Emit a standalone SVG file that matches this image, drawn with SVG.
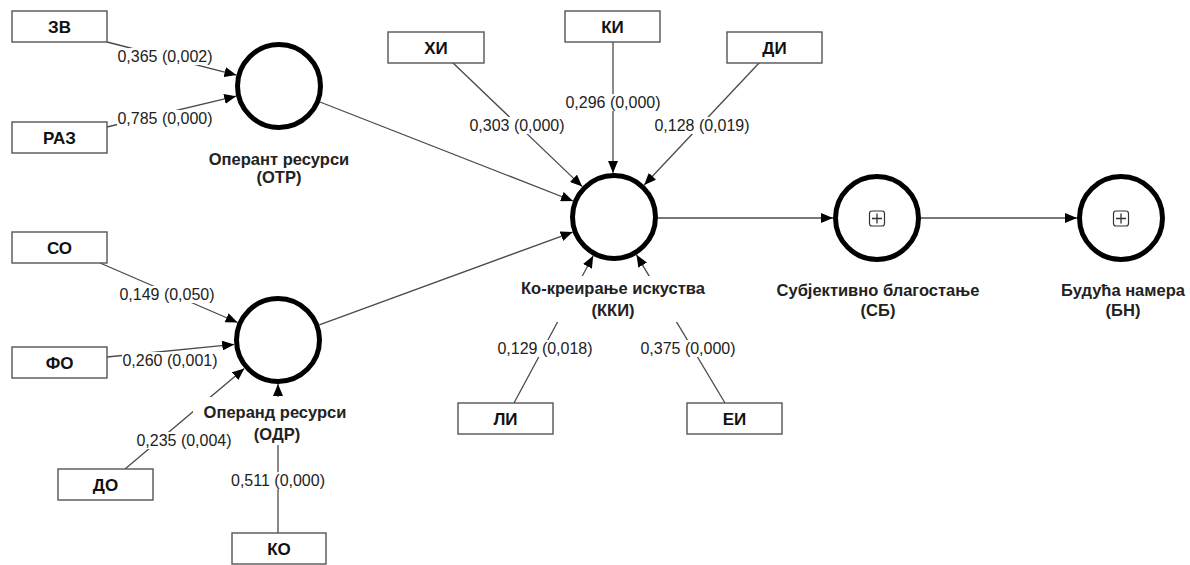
<svg xmlns="http://www.w3.org/2000/svg" width="1190" height="565" viewBox="0 0 1190 565">
  <style>
    .box { fill: #ffffff; stroke: #555555; stroke-width: 1.4; }
    .boxtxt { font-family: "Liberation Sans", Arial, sans-serif; font-size: 17px; font-weight: bold; fill: #111111; text-anchor: middle; }
    .lv { fill: #ffffff; stroke: #000000; stroke-width: 5; }
    .lvtxt { font-family: "Liberation Sans", Arial, sans-serif; font-size: 16.5px; font-weight: bold; fill: #222222; text-anchor: middle; }
    .edge { stroke: #4a4a4a; stroke-width: 1.3; fill: none; marker-end: url(#arrow); }
    .coef { font-family: "Liberation Sans", Arial, sans-serif; font-size: 16px; fill: #222222; text-anchor: middle; }
    .bg { fill: #ffffff; }
    .icon { fill: #ffffff; stroke: #333333; stroke-width: 1.2; }
  </style>
  <defs>
    <marker id="arrow" markerUnits="userSpaceOnUse" markerWidth="12" markerHeight="10" refX="12" refY="5" orient="auto">
      <path d="M0,0 L12,5 L0,10 Z" fill="#000000"/>
    </marker>
  </defs>
  <rect width="1190" height="565" fill="#ffffff"/>

  <!-- connectors -->
  <g id="connectors">
    <line class="edge" x1="107" y1="42" x2="236.4" y2="75.1"/>
    <line class="edge" x1="107" y1="127" x2="236.2" y2="96.2"/>
    <line class="edge" x1="320" y1="102" x2="573" y2="201"/>
    <line class="edge" x1="319.3" y1="324.9" x2="572.7" y2="232.1"/>
    <line class="edge" x1="100" y1="263" x2="237.6" y2="322.5"/>
    <line class="edge" x1="107" y1="357" x2="234.2" y2="344.4"/>
    <line class="edge" x1="125" y1="469" x2="244.3" y2="368.4"/>
    <line class="edge" x1="278" y1="533" x2="278" y2="384"/>
    <line class="edge" x1="452" y1="62" x2="582.2" y2="186.6"/>
    <line class="edge" x1="613" y1="42" x2="613" y2="173"/>
    <line class="edge" x1="760" y1="62" x2="644.2" y2="185"/>
    <line class="edge" x1="514" y1="403" x2="593.2" y2="255.8"/>
    <line class="edge" x1="725" y1="403" x2="636.5" y2="254.8"/>
    <line class="edge" x1="658" y1="218" x2="833" y2="218"/>
    <line class="edge" x1="921" y1="218" x2="1077" y2="218"/>
  </g>

  <!-- construct name backgrounds (hide the connectors behind the names) -->
  <g id="name-backgrounds">
    <rect class="bg" x="203" y="150" width="152" height="38"/>
    <rect class="bg" x="193" y="397" width="154" height="25"/>
    <rect class="bg" x="250" y="422" width="54" height="23"/>
    <rect class="bg" x="516" y="276" width="194" height="46"/>
  </g>

  <!-- path coefficients with p-values -->
  <g id="coefficients">
    <rect class="bg" x="117" y="48" width="96" height="17"/>
    <text class="coef" x="165" y="62">0,365 (0,002)</text>
    <rect class="bg" x="117" y="110" width="96" height="17"/>
    <text class="coef" x="165" y="124">0,785 (0,000)</text>
    <rect class="bg" x="119" y="286" width="96" height="17"/>
    <text class="coef" x="167" y="300">0,149 (0,050)</text>
    <rect class="bg" x="122" y="352" width="96" height="17"/>
    <text class="coef" x="170" y="366">0,260 (0,001)</text>
    <rect class="bg" x="136" y="432" width="96" height="17"/>
    <text class="coef" x="184" y="446">0,235 (0,004)</text>
    <rect class="bg" x="230" y="472" width="96" height="17"/>
    <text class="coef" x="278" y="486">0,511 (0,000)</text>
    <rect class="bg" x="469" y="117" width="96" height="17"/>
    <text class="coef" x="517" y="131">0,303 (0,000)</text>
    <rect class="bg" x="565" y="94" width="96" height="17"/>
    <text class="coef" x="613" y="108">0,296 (0,000)</text>
    <rect class="bg" x="654" y="117" width="96" height="17"/>
    <text class="coef" x="702" y="131">0,128 (0,019)</text>
    <rect class="bg" x="497" y="340" width="96" height="17"/>
    <text class="coef" x="545" y="354">0,129 (0,018)</text>
    <rect class="bg" x="640" y="340" width="96" height="17"/>
    <text class="coef" x="688" y="354">0,375 (0,000)</text>
  </g>

  <!-- indicator boxes -->
  <g id="ZV"><rect class="box" x="12" y="11" width="95" height="31"/><text class="boxtxt" x="59.5" y="33">ЗВ</text></g>
  <g id="RAZ"><rect class="box" x="12" y="122" width="95" height="31"/><text class="boxtxt" x="59.5" y="144">РАЗ</text></g>
  <g id="SO"><rect class="box" x="12" y="232" width="95" height="31"/><text class="boxtxt" x="59.5" y="254">СО</text></g>
  <g id="FO"><rect class="box" x="12" y="347" width="95" height="31"/><text class="boxtxt" x="59.5" y="369">ФО</text></g>
  <g id="DO"><rect class="box" x="58" y="469" width="95" height="31"/><text class="boxtxt" x="105.5" y="491">ДО</text></g>
  <g id="KO"><rect class="box" x="232" y="533" width="94" height="31"/><text class="boxtxt" x="279" y="555">КО</text></g>
  <g id="HI"><rect class="box" x="388" y="32" width="96" height="31"/><text class="boxtxt" x="436" y="54">ХИ</text></g>
  <g id="KI"><rect class="box" x="565" y="11" width="95" height="31"/><text class="boxtxt" x="612.5" y="33">КИ</text></g>
  <g id="DI"><rect class="box" x="727" y="32" width="95" height="31"/><text class="boxtxt" x="774.5" y="54">ДИ</text></g>
  <g id="LI"><rect class="box" x="458" y="403" width="95" height="31"/><text class="boxtxt" x="505.5" y="425">ЛИ</text></g>
  <g id="EI"><rect class="box" x="687" y="403" width="95" height="31"/><text class="boxtxt" x="734.5" y="425">ЕИ</text></g>

  <!-- latent constructs -->
  <g id="OTR">
    <circle class="lv" cx="279" cy="86" r="41.5"/>
    <text class="lvtxt" x="279" y="165">Оперант ресурси</text>
    <text class="lvtxt" x="279" y="183">(ОТР)</text>
  </g>
  <g id="ODR">
    <circle class="lv" cx="278" cy="340" r="41.5"/>
    <text class="lvtxt" x="275" y="418">Операнд ресурси</text>
    <text class="lvtxt" x="277" y="440">(ОДР)</text>
  </g>
  <g id="KKI">
    <circle class="lv" cx="614" cy="217" r="41.5"/>
    <text class="lvtxt" x="613" y="294">Ко-креирање искуства</text>
    <text class="lvtxt" x="613" y="316">(ККИ)</text>
  </g>
  <g id="SB">
    <circle class="lv" cx="877" cy="218" r="41.5"/>
    <rect class="icon" x="869.5" y="211" width="15" height="15" rx="2.5"/>
    <path d="M877 213.5 V223.5 M872 218.5 H882" stroke="#333333" stroke-width="1.3"/>
    <text class="lvtxt" x="878" y="296">Субјективно благостање</text>
    <text class="lvtxt" x="878" y="316">(СБ)</text>
  </g>
  <g id="BN">
    <circle class="lv" cx="1121" cy="218" r="41.5"/>
    <rect class="icon" x="1113.5" y="211" width="15" height="15" rx="2.5"/>
    <path d="M1121 213.5 V223.5 M1116 218.5 H1126" stroke="#333333" stroke-width="1.3"/>
    <text class="lvtxt" x="1123" y="296">Будућа намера</text>
    <text class="lvtxt" x="1123" y="316">(БН)</text>
  </g>
</svg>
